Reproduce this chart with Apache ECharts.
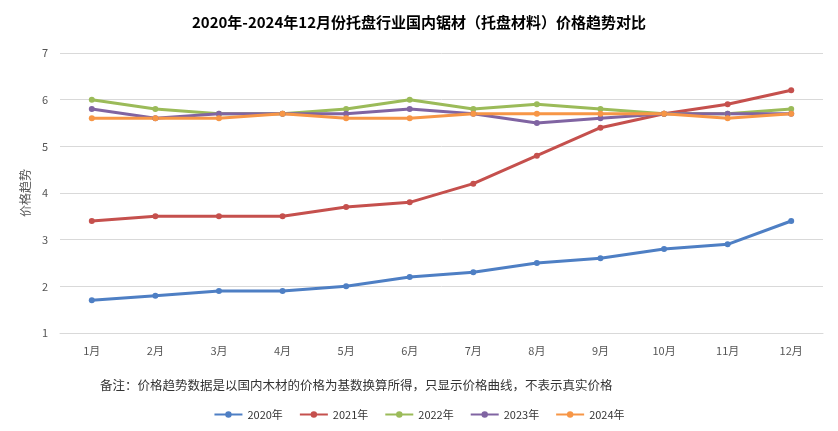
<!DOCTYPE html>
<html>
<head>
<meta charset="utf-8">
<script src="https://cdn.jsdelivr.net/npm/echarts@6/dist/echarts.min.js"></script>
<style>html,body{margin:0;padding:0;background:#fff}#main{width:838px;height:431px}</style>
</head>
<body>
<div id="main"></div>
<script>
var months = ['1月','2月','3月','4月','5月','6月','7月','8月','9月','10月','11月','12月'];
var seriesNames = ['2020年','2021年','2022年','2023年','2024年'];
var colors = ['#4E7FC4','#C5504D','#9BBB59','#8064A2','#F79646'];
var y2020 = [1.7,1.8,1.9,1.9,2.0,2.2,2.3,2.5,2.6,2.8,2.9,3.4];
var y2021 = [3.4,3.5,3.5,3.5,3.7,3.8,4.2,4.8,5.4,5.7,5.9,6.2];
var y2022 = [6.0,5.8,5.7,5.7,5.8,6.0,5.8,5.9,5.8,5.7,5.7,5.8];
var y2023 = [5.8,5.6,5.7,5.7,5.7,5.8,5.7,5.5,5.6,5.7,5.7,5.7];
var y2024 = [5.6,5.6,5.6,5.7,5.6,5.6,5.7,5.7,5.7,5.7,5.6,5.7];
var allData = [y2020,y2021,y2022,y2023,y2024];

var chart = echarts.init(document.getElementById('main'));
var series = [];
for (var i = 0; i < allData.length; i++) {
	series.push({
		name: seriesNames[i],
		type: 'line',
		data: allData[i],
		symbol: 'circle',
		symbolSize: 6,
		itemStyle: { color: colors[i] },
		lineStyle: { width: 3, color: colors[i] }
	});
}
chart.setOption({
	animation: false,
	textStyle: { fontFamily: 'Noto Sans CJK SC' },
	title: {
		text: '2020年-2024年12月份托盘行业国内锯材（托盘材料）价格趋势对比',
		left: 'center', top: 10,
		textStyle: { fontSize: 15, fontWeight: 'bold', color: '#000' }
	},
	graphic: [{
		type: 'text', left: 100, top: 379,
		style: { text: '备注：价格趋势数据是以国内木材的价格为基数换算所得，只显示价格曲线，不表示真实价格', fontSize: 12.5, fill: '#333', fontFamily: 'Noto Sans CJK SC' }
	}],
	legend: {
		data: seriesNames, bottom: 6, left: 'center',
		itemWidth: 28, itemHeight: 8, itemGap: 16,
		textStyle: { fontSize: 11, color: '#333' }
	},
	grid: { left: 60, right: 15, top: 53, bottom: 98 },
	xAxis: {
		type: 'category', data: months, boundaryGap: true,
		axisLine: { lineStyle: { color: '#d9d9d9' } },
		axisTick: { show: false },
		axisLabel: { color: '#555', fontSize: 11, margin: 12 }
	},
	yAxis: {
		type: 'value', min: 1, max: 7, interval: 1,
		name: '价格趋势', nameLocation: 'middle', nameGap: 26, nameRotate: 90,
		nameTextStyle: { color: '#555', fontSize: 12 },
		axisLine: { show: false }, axisTick: { show: false },
		axisLabel: { color: '#555', fontSize: 11, margin: 12 },
		splitLine: { lineStyle: { color: '#d9d9d9' } }
	},
	series: series
});
</script>
</body>
</html>
